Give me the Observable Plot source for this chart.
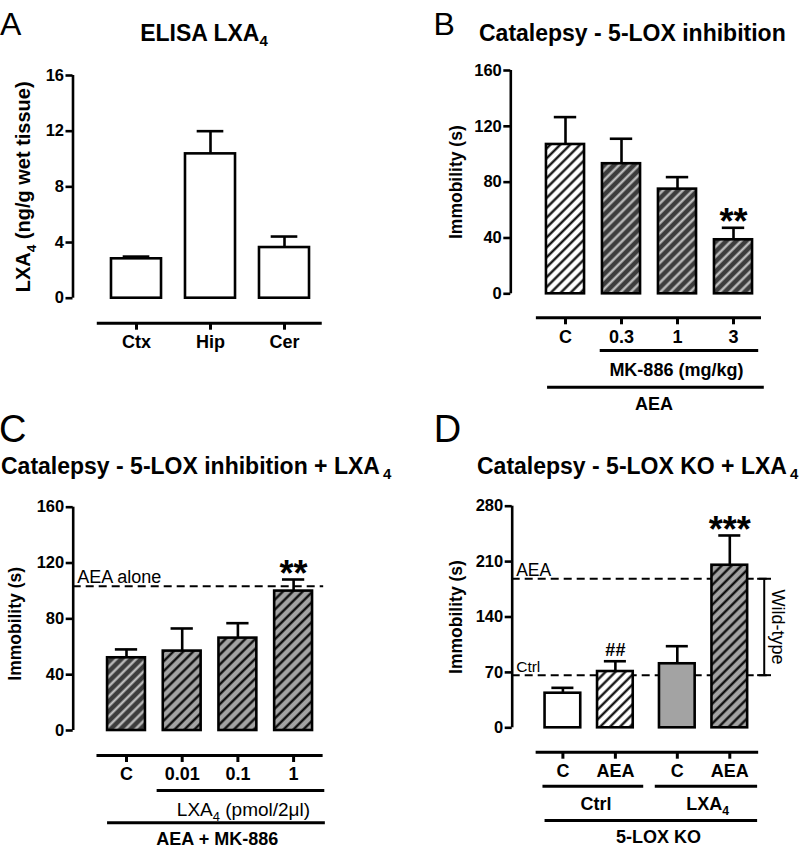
<!DOCTYPE html>
<html><head><meta charset="utf-8">
<script src="https://cdn.jsdelivr.net/npm/d3@7"></script>
<script src="https://cdn.jsdelivr.net/npm/@observablehq/plot@0.6"></script>
<style>
body{margin:0;background:#fff}
#wrap{position:relative;width:806px;height:848px;font-family:"Liberation Sans",Arial,Helvetica,sans-serif;overflow:hidden;background:#fff}
.ttl{position:absolute;font-weight:bold;font-size:23px;white-space:nowrap;line-height:1;color:#000}
.ttl sub{font-size:15px;vertical-align:baseline;position:relative;top:5px}
.let{position:absolute;line-height:1;color:#000;font-weight:normal}
svg [aria-label="y-axis tick"] path, svg [aria-label="y-axis"] .tick line{stroke-width:2.6px;stroke:#000}
</style></head><body><div id="wrap"></div>
<script>
// ---------- DATA ----------
// Panel A: ELISA LXA4
const catsA = ["Ctx", "Hip", "Cer"];
const valsA = [2.83, 10.37, 3.64];
const errsA = [0.16, 1.63, 0.79];
const condsA = ["control", "control", "control"];
const ticksA = [0, 4, 8, 12, 16];

// Panel B: Catalepsy - 5-LOX inhibition
const catsB = ["C", "0.3", "1", "3"];
const valsB = [107.0, 93.2, 75.0, 38.7];
const errsB = [19.6, 17.9, 8.6, 8.6];
const condsB = ["AEA", "AEA+MK-886", "AEA+MK-886", "AEA+MK-886"];
const sigB = ["", "", "", "**"];
const ticksB = [0, 40, 80, 120, 160];
const groupsB = ["MK-886 (mg/kg)", "AEA"];

// Panel C: Catalepsy - 5-LOX inhibition + LXA4
const catsC = ["C", "0.01", "0.1", "1"];
const valsC = [52.1, 56.9, 66.2, 99.9];
const errsC = [6.0, 16.2, 10.7, 8.3];
const condsC = ["AEA+MK-886", "AEA+MK-886+LXA4", "AEA+MK-886+LXA4", "AEA+MK-886+LXA4"];
const sigC = ["", "", "", "**"];
const ticksC = [0, 40, 80, 120, 160];
const groupsC = ["LXA_4 (pmol/2\u03bcl)", "AEA + MK-886"];
const refLabelsC = ["AEA alone"];
const refValsC = [103.4];

// Panel D: Catalepsy - 5-LOX KO + LXA4
const catsD = ["C", "AEA", "C", "AEA"];
const valsD = [43.7, 71.1, 80.9, 205.4];
const errsD = [6.8, 13.0, 22.2, 37.6];
const condsD = ["control", "AEA", "LXA4", "AEA+LXA4"];
const sigD = ["", "##", "", "***"];
const ticksD = [0, 70, 140, 210, 280];
const groupsD = ["Ctrl", "LXA_4", "5-LOX KO"];
const refLabelsD = ["AEA", "Ctrl"];
const refValsD = [188.3, 66.5];
const bracketLabelD = "Wild-type";

// ---------- STYLE ----------
const styleOf = c => ({
  "control": "open", "AEA": "hatchW", "AEA+MK-886": "hatchD",
  "AEA+MK-886+LXA4": "hatchG", "LXA4": "gray", "AEA+LXA4": "hatchG"
}[c]);
const sigStyle = {"**": {size: 36, dy: -5}, "***": {size: 36, dy: -5}, "##": {size: 18, dy: -11}};
const FONT = '"Liberation Sans", Arial, Helvetica, sans-serif';
const NS = "http://www.w3.org/2000/svg";
const wrap = document.getElementById("wrap");

function pat(pid, bg, fg) {
  return `<pattern id="${pid}" patternUnits="userSpaceOnUse" width="7" height="7" patternTransform="rotate(45)"><rect width="7" height="7" fill="${bg}"/><line x1="3.5" y1="-1" x2="3.5" y2="8" stroke="${fg}" stroke-width="2.2"/></pattern>`;
}

function subs(svg) {
  d3.select(svg).selectAll("text").each(function () {
    const el = this;
    const t = el.textContent;
    if (!t.includes("_4")) return;
    const [a, b] = t.split("_4");
    const fs = parseFloat(getComputedStyle(el).fontSize) || 16;
    el.textContent = "";
    el.appendChild(document.createTextNode(a));
    const s = document.createElementNS(NS, "tspan");
    s.setAttribute("font-size", fs * 0.68);
    s.setAttribute("dy", fs * 0.28);
    s.textContent = "4";
    el.appendChild(s);
    if (b) {
      const r = document.createElementNS(NS, "tspan");
      r.setAttribute("dy", -fs * 0.28);
      r.textContent = b;
      el.appendChild(r);
    }
  });
}

function panel(P) {
  const id = P.id;
  const unit = (P.cN - P.c0) / P.dEnd;
  const xAxis = (P.axisX - P.c0) / unit;
  const ypp = P.max / (P.zeroPx - P.topPx);
  const bars = P.cats.map((c, i) => ({x: P.xs[i], c, v: P.vals[i], e: P.errs[i], s: styleOf(P.conds[i]), sig: P.sig ? P.sig[i] : ""}));
  const fills = {open: "white", gray: "#a3a3a3", hatchW: `url(#hW${id})`, hatchD: `url(#hD${id})`, hatchG: `url(#hG${id})`};
  const marks = [];
  if (P.refVals) {
    const refs = P.refVals.map((v, i) => ({v, t: P.refLabels[i]}));
    marks.push(Plot.ruleY(refs, {y: "v", x1: xAxis, x2: P.refX2, stroke: "black", strokeWidth: 2, strokeDasharray: "8,5"}));
    refs.forEach((r, i) => marks.push(Plot.text([r], {x: () => xAxis, y: "v", text: "t", textAnchor: "start", lineAnchor: "bottom", dx: 4, dy: -3, fontSize: P.refSizes[i], fontWeight: "normal"})));
  }
  if (P.bracket) {
    const [lo, hi] = [Math.min(...P.refVals), Math.max(...P.refVals)];
    marks.push(Plot.ruleX([P.bracket.x], {y1: lo, y2: hi, strokeWidth: 2}));
    marks.push(Plot.ruleY([lo, hi], {x1: P.bracket.x1, x2: P.bracket.x2, strokeWidth: 2}));
    marks.push(Plot.text([P.bracket.label], {x: () => P.bracket.tx, y: () => (lo + hi) / 2, text: d => d, rotate: 90, fontSize: 18, fontWeight: "normal"}));
  }
  marks.push(Plot.ruleX(bars, {x: "x", y1: "v", y2: d => d.v + d.e, strokeWidth: 2.6}));
  marks.push(Plot.ruleY(bars, {y: d => d.v + d.e, x1: d => d.x - P.cw, x2: d => d.x + P.cw, strokeWidth: 2.6}));
  for (const st of [...new Set(bars.map(d => d.s))]) {
    marks.push(Plot.rect(bars.filter(d => d.s === st), {x1: d => d.x - P.hw, x2: d => d.x + P.hw, y1: () => 0, y2: "v", fill: fills[st], stroke: "black", strokeWidth: 2.6}));
  }
  marks.push(Plot.ruleX([xAxis], {y1: 0, y2: P.max, strokeWidth: 2.6}));
  // category axis
  marks.push(Plot.ruleY([0], {x1: P.catLine[0], x2: P.catLine[1], dy: P.catDy, strokeWidth: 3}));
  marks.push(Plot.ruleX(bars, {x: "x", y1: () => 0, y2: () => -7 * ypp, dy: P.catDy, strokeWidth: 3}));
  marks.push(Plot.text(bars, {x: "x", y: () => 0, text: "c", dy: P.labDy, fontSize: 18, fontWeight: "bold"}));
  (P.lines || []).forEach(L => marks.push(Plot.ruleY([0], {x1: L[0], x2: L[1], dy: L[2], strokeWidth: 3})));
  (P.glabels || []).forEach((G, i) => marks.push(Plot.text([P.groups[i]], {x: () => G[0], y: () => 0, text: d => d, dy: G[1], fontSize: G[2] || 18, fontWeight: G[3] || "bold"})));
  bars.filter(d => d.sig).forEach(d => {
    const s = sigStyle[d.sig];
    marks.push(Plot.text([d], {x: "x", y: q => q.v + q.e, text: "sig", dy: s.dy, fontSize: s.size, fontWeight: "bold"}));
  });
  marks.push(Plot.text([P.ylabel], {x: () => xAxis, y: () => P.max / 2, text: d => d, rotate: -90, dx: P.yLabDx, dy: P.yLabDy || 0, fontSize: P.yLabSize, fontWeight: "bold"}));

  const svg = Plot.plot({
    width: 403, height: P.h,
    marginLeft: P.axisX, marginTop: P.topPx, marginBottom: P.h - P.zeroPx, marginRight: 10,
    x: {domain: [0, P.dEnd], range: [P.c0, P.cN], axis: null},
    y: {domain: [0, P.max], ticks: P.ticks, tickSize: 7, tickPadding: 2, tickFormat: d => String(d), label: null},
    style: {fontFamily: FONT, fontSize: "16.5px", fontWeight: "bold", color: "black", background: "white", overflow: "visible", maxWidth: "none"},
    marks
  });
  svg.style.position = "absolute";
  svg.style.left = P.left + "px";
  svg.style.top = P.top + "px";
  wrap.appendChild(svg);
  d3.select(svg).insert("defs", ":first-child").html(
    pat(`hW${id}`, "white", "black") + pat(`hD${id}`, "#3d3d3d", "#c8c8c8") + pat(`hG${id}`, "#a3a3a3", "black"));
  subs(svg);
}

panel({id: "A", left: 0, top: 0, h: 424, axisX: 72.5, topPx: 75, zeroPx: 297.7, max: 16, ticks: ticksA,
  xs: [0, 1, 2], c0: 136, cN: 284, dEnd: 2, hw: 0.338, cw: 0.18,
  cats: catsA, vals: valsA, errs: errsA, conds: condsA,
  catLine: [-0.53, 2.51], catDy: 25, labDy: 44.3,
  ylabel: "LXA_4 (ng/g wet tissue)", yLabDx: -49.5, yLabSize: 20});

panel({id: "B", left: 403, top: 0, h: 424, axisX: 107.3, topPx: 70, zeroPx: 293.3, max: 160, ticks: ticksB,
  xs: [0, 1, 2, 3], c0: 162, cN: 330, dEnd: 3, hw: 0.34, cw: 0.2,
  cats: catsB, vals: valsB, errs: errsB, conds: condsB, sig: sigB,
  catLine: [-0.52, 3.5], catDy: 24, labDy: 43.7,
  lines: [[0.62, 3.45, 56.7], [-0.32, 3.55, 93.4]],
  groups: groupsB, glabels: [[1.98, 76.7], [1.58, 110.7]],
  ylabel: "Immobility (s)", yLabDx: -54, yLabSize: 17.5});

panel({id: "C", left: 0, top: 424, h: 424, axisX: 72.7, topPx: 82.7, zeroPx: 306, max: 160, ticks: ticksC,
  xs: [0, 1, 2, 3], c0: 126, cN: 293.1, dEnd: 3, hw: 0.34, cw: 0.2,
  cats: catsC, vals: valsC, errs: errsC, conds: condsC, sig: sigC,
  catLine: [-0.53, 3.53], catDy: 25, labDy: 44,
  lines: [[0.55, 3.56, 60], [-0.34, 3.57, 92.3]],
  groups: groupsC, glabels: [[2.1, 79, 19, "normal"], [1.63, 108.5]],
  refVals: refValsC, refLabels: refLabelsC, refSizes: [18], refX2: 3.54,
  ylabel: "Immobility (s)", yLabDx: -57.7, yLabDy: 5, yLabSize: 17.5});

panel({id: "D", left: 403, top: 424, h: 424, axisX: 108.7, topPx: 81.7, zeroPx: 303.3, max: 280, ticks: ticksD,
  xs: [0, 1, 2.18, 3.18], c0: 159.4, cN: 326.3, dEnd: 3.18, hw: 0.34, cw: 0.21,
  cats: catsD, vals: valsD, errs: errsD, conds: condsD, sig: sigD,
  catLine: [-0.51, 3.73], catDy: 24.4, labDy: 43.4,
  lines: [[-0.38, 1.54, 58.4], [1.76, 3.71, 58.4], [-0.34, 3.71, 92.7]],
  groups: groupsD, glabels: [[0.63, 76.7], [2.76, 76.7], [1.82, 109]],
  refVals: refValsD, refLabels: refLabelsD, refSizes: [17.5, 15.5], refX2: 3.97,
  bracket: {x: 3.836, x1: 3.71, x2: 3.975, tx: 4.1, label: bracketLabelD},
  ylabel: "Immobility (s)", yLabDx: -55.7, yLabSize: 17.5});

// ---------- titles and panel letters ----------
function html(tag, cls, css, inner) {
  const e = document.createElement(tag); e.className = cls; Object.assign(e.style, css); e.innerHTML = inner; wrap.appendChild(e); return e;
}
html("div", "ttl", {left: "204px", top: "22px", transform: "translateX(-50%)"}, "ELISA LXA<sub>4</sub>");
html("div", "ttl", {left: "479px", top: "22px"}, "Catalepsy - 5-LOX inhibition");
html("div", "ttl", {left: "1px", top: "454.5px"}, "Catalepsy - 5-LOX inhibition + LXA<sub>&#8201;4</sub>");
html("div", "ttl", {left: "477px", top: "454.5px"}, "Catalepsy - 5-LOX KO + LXA<sub>&#8201;4</sub>");
html("div", "let", {left: "0px", top: "8px", fontSize: "32px"}, "A");
html("div", "let", {left: "433.5px", top: "8px", fontSize: "32px"}, "B");
html("div", "let", {left: "-1px", top: "410px", fontSize: "38px"}, "C");
html("div", "let", {left: "433.7px", top: "410px", fontSize: "38px"}, "D");
</script></body></html>
